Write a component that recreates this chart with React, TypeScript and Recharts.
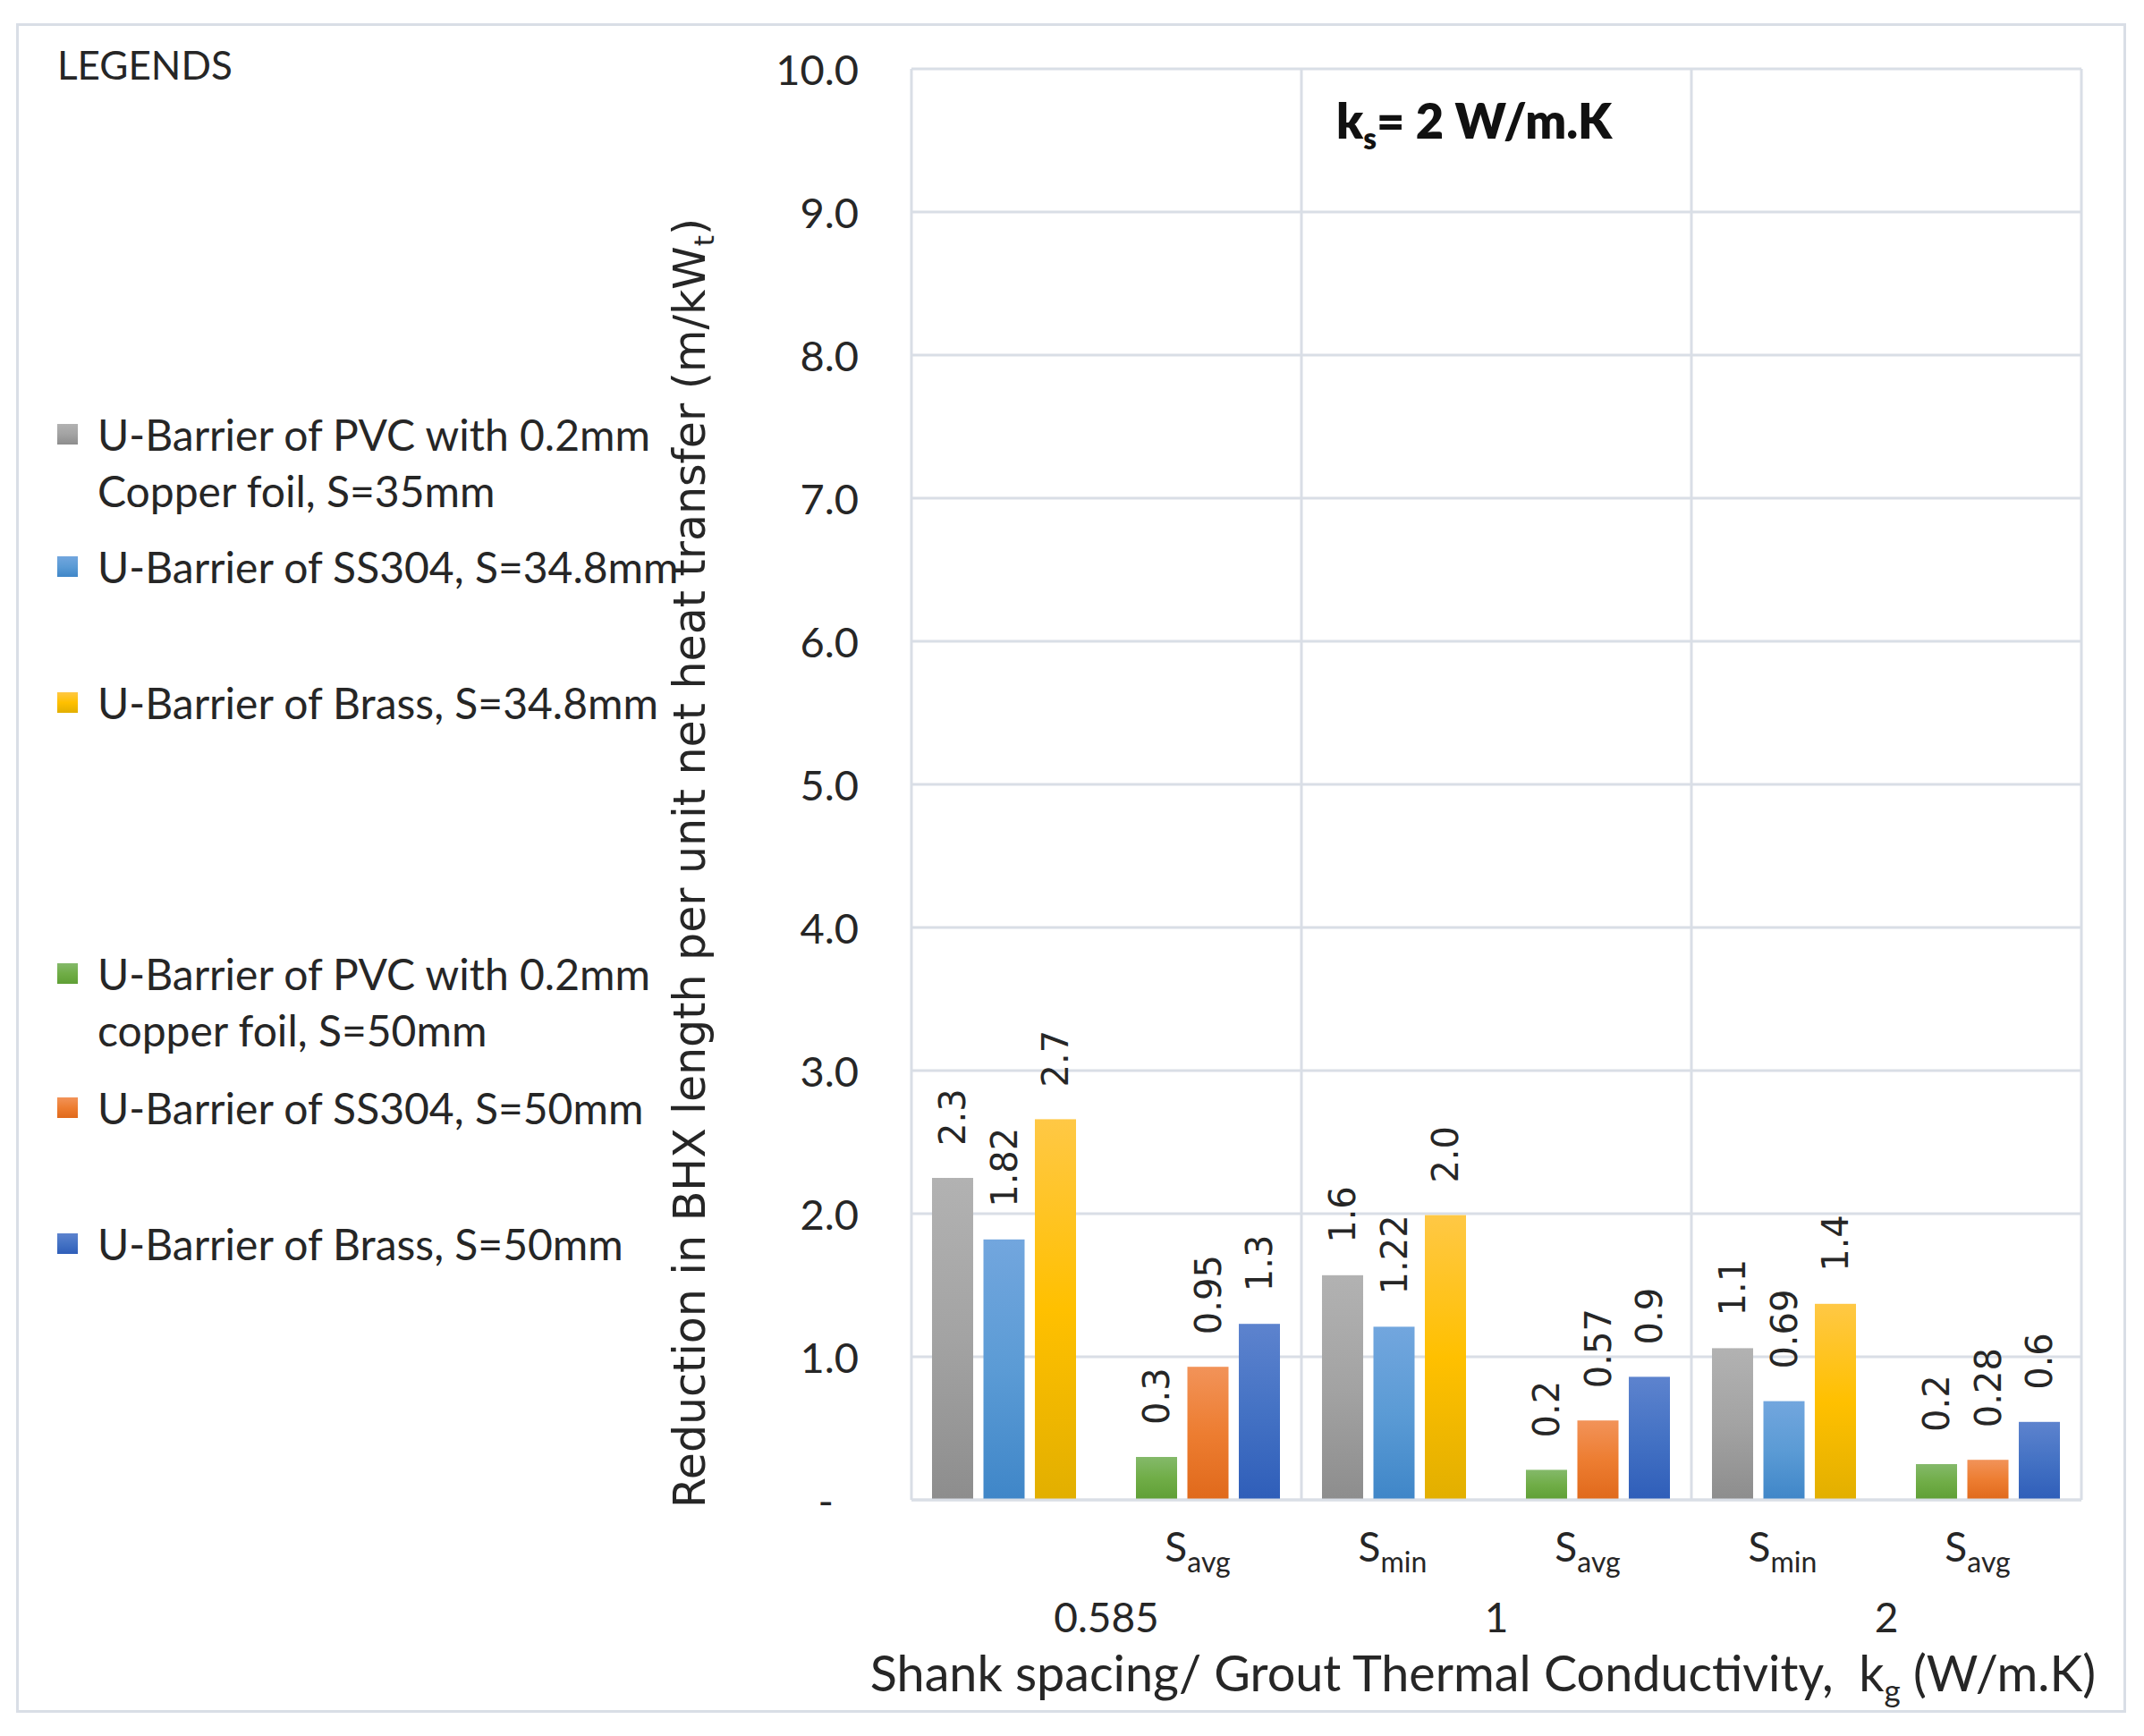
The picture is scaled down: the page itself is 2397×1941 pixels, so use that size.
import { Bar, BarChart, CartesianGrid, Cell, LabelList, XAxis, YAxis } from 'recharts'

// categories: shank spacing per grout conductivity group (first S_min label is blank in the source)
const subscripts = ['', 'avg', 'min', 'avg', 'min', 'avg']
const spacingKind = ['min', 'avg', 'min', 'avg', 'min', 'avg']
const groupNames = ['0.585', '', '1', '', '2', '']

// bar heights (m/kWt)
const barA = [2.25, 0.3, 1.57, 0.21, 1.06, 0.25]
const barB = [1.82, 0.93, 1.21, 0.555, 0.69, 0.28]
const barC = [2.66, 1.23, 1.99, 0.86, 1.37, 0.545]

// printed data labels
const labelA = ['2.3', '0.3', '1.6', '0.2', '1.1', '0.2']
const labelB = ['1.82', '0.95', '1.22', '0.57', '0.69', '0.28']
const labelC = ['2.7', '1.3', '2.0', '0.9', '1.4', '0.6']

const yTicks = [0, 1, 2, 3, 4, 5, 6, 7, 8, 9, 10]

const legendNames = [
  ['U-Barrier of PVC with 0.2mm', 'Copper foil, S=35mm'],
  ['U-Barrier of SS304, S=34.8mm'],
  ['U-Barrier of Brass, S=34.8mm'],
  ['U-Barrier of PVC with 0.2mm', 'copper foil, S=50mm'],
  ['U-Barrier of SS304, S=50mm'],
  ['U-Barrier of Brass, S=50mm'],
]

const data = subscripts.map((sub, i) => ({
  sub,
  group: groupNames[i],
  kind: spacingKind[i],
  a: barA[i],
  b: barB[i],
  c: barC[i],
  la: labelA[i],
  lb: labelB[i],
  lc: labelC[i],
}))

// layout
const W = 2397
const H = 1941
const PLOT_LEFT = 1019
const PLOT_RIGHT = 2327
const PLOT_TOP = 77
const PLOT_BOTTOM = 1677
const PLOT_W = PLOT_RIGHT - PLOT_LEFT
const BAND = PLOT_W / subscripts.length
const GRID = '#d9dee6'
const INK = '#262626'
const CAL = 'Lato, "Open Sans", sans-serif'
const DV = '"DejaVu Sans", Verdana, sans-serif'
// Excel nudges the S_min cluster left and the S_avg cluster right inside each band
const KIND_SHIFT: Record<string, number> = { min: -6, avg: 4 }

const gradients: Record<string, [string, string, string]> = {
  gray: ['#b2b2b2', '#a3a3a3', '#8d8d8d'],
  blue: ['#72a6de', '#5b9bd5', '#3f86c8'],
  gold: ['#ffc845', '#ffc000', '#e2af00'],
  green: ['#84b96a', '#70ad47', '#5f9f35'],
  orange: ['#f29359', '#ed7d31', '#e0691b'],
  navy: ['#5d83ce', '#4472c4', '#2f5eb9'],
}

const fills = {
  a: { min: 'gray', avg: 'green' },
  b: { min: 'blue', avg: 'orange' },
  c: { min: 'gold', avg: 'navy' },
}

const legendColors = ['gray', 'blue', 'gold', 'green', 'orange', 'navy']
const legendTops = [486, 634, 786, 1089, 1239, 1391]

function XTick(props: any) {
  const { x, y, payload, index } = props
  const row = data[index] ?? data[payload?.index ?? 0]
  return (
    <g>
      {row.sub && (
        <text x={x - 7} y={y + 67} textAnchor="middle" fontFamily={CAL} fontSize={46} fill={INK}>
          <tspan>S</tspan>
          <tspan fontSize={32} dy={12}>{row.sub}</tspan>
        </text>
      )}
      {row.group && (
        <text x={x + BAND / 2} y={y + 146} textAnchor="middle" fontFamily={CAL} fontSize={46} fill={INK}>
          {row.group}
        </text>
      )}
    </g>
  )
}

function YTick(props: any) {
  const { x, y, payload } = props
  const v = payload.value
  return (
    <text
      x={v === 0 ? x - 28 : x}
      y={y}
      textAnchor="end"
      dominantBaseline="central"
      fontFamily={CAL}
      fontSize={47}
      fill={INK}
    >
      {v === 0 ? '-' : v.toFixed(1)}
    </text>
  )
}

function ShiftedBar(props: any) {
  const { x, y, width, height, fill, index } = props
  if (!height || height <= 0) return null
  const dx = KIND_SHIFT[data[index]?.kind] ?? 0
  return <rect x={x + dx} y={y} width={width} height={height} fill={fill} />
}

function rotatedLabel(props: any) {
  const { x, y, width, value, index } = props
  const dx = KIND_SHIFT[data[index]?.kind] ?? 0
  const cx = Number(x) + Number(width) / 2 + dx
  const ty = Number(y) - 36
  return (
    <text
      transform={`translate(${cx}, ${ty}) rotate(-90)`}
      textAnchor="start"
      dominantBaseline="central"
      fontFamily={DV}
      fontSize={40}
      fill={INK}
    >
      {value}
    </text>
  )
}

function cssGrad(name: string) {
  const [a, b, c] = gradients[name]
  return `linear-gradient(${a}, ${b}, ${c})`
}

export default function App() {
  return (
    <div style={{ position: 'relative', width: W, height: H, background: '#fff' }}>
      <style>{'body{margin:0}'}</style>
      <div
        style={{
          position: 'absolute',
          left: 18,
          top: 26,
          width: 2377 - 18 - 6,
          height: 1915 - 26 - 6,
          border: `3px solid ${GRID}`,
        }}
      />
      <div style={{ position: 'absolute', left: 0, top: 0 }}>
        <BarChart
          width={W}
          height={H}
          data={data}
          margin={{ top: PLOT_TOP, right: W - PLOT_RIGHT, bottom: H - PLOT_BOTTOM - 160, left: 0 }}
          barSize={46}
          barGap={11.5}
        >
          <defs>
            {Object.entries(gradients).map(([name, [a, b, c]]) => (
              <linearGradient key={name} id={`g-${name}`} x1="0" y1="0" x2="0" y2="1">
                <stop offset="0%" stopColor={a} />
                <stop offset="50%" stopColor={b} />
                <stop offset="100%" stopColor={c} />
              </linearGradient>
            ))}
          </defs>
          <CartesianGrid
            stroke={GRID}
            strokeWidth={3}
            verticalCoordinatesGenerator={(p: any) => {
              const l = p?.offset?.left ?? PLOT_LEFT
              const w = p?.offset?.width ?? PLOT_W
              return [l, l + w / 3, l + (2 * w) / 3, l + w]
            }}
          />
          <XAxis
            dataKey="sub"
            height={160}
            interval={0}
            tickLine={false}
            tickSize={0}
            axisLine={{ stroke: GRID, strokeWidth: 3 }}
            tick={<XTick />}
          />
          <YAxis
            width={PLOT_LEFT}
            domain={[0, 10]}
            ticks={yTicks}
            interval={0}
            axisLine={false}
            tickLine={false}
            tickSize={0}
            tickMargin={59}
            tick={<YTick />}
          />
          {(['a', 'b', 'c'] as const).map((key) => (
            <Bar key={key} dataKey={key} isAnimationActive={false} shape={<ShiftedBar />}>
              {data.map((row, i) => (
                <Cell key={i} fill={`url(#g-${fills[key][row.kind as 'min' | 'avg']})`} />
              ))}
              <LabelList dataKey={`l${key}`} content={rotatedLabel} />
            </Bar>
          ))}
        </BarChart>
      </div>

      {/* legend box drawn by hand, as in the source */}
      <div style={{ position: 'absolute', left: 64, top: 46, fontFamily: CAL, fontSize: 44, color: INK }}>LEGENDS</div>
      {legendNames.map((lines, i) => (
        <div
          key={i}
          style={{
            position: 'absolute',
            left: 64,
            top: legendTops[i] - 32,
            fontFamily: CAL,
            fontSize: 48,
            lineHeight: '63px',
            color: INK,
            whiteSpace: 'nowrap',
          }}
        >
          <div
            style={{
              position: 'absolute',
              left: 0,
              top: 20,
              width: 23,
              height: 23,
              background: cssGrad(legendColors[i]),
            }}
          />
          <div style={{ marginLeft: 45 }}>
            {lines.map((t, j) => (
              <div key={j}>{t}</div>
            ))}
          </div>
        </div>
      ))}

      <div
        style={{
          position: 'absolute',
          left: 1494,
          top: 138,
          transform: 'translateY(-50%)',
          fontFamily: CAL,
          fontWeight: 800,
          fontSize: 54,
          color: '#111',
          whiteSpace: 'nowrap',
        }}
      >
        k<sub style={{ fontSize: 33 }}>s</sub>= 2 W/m.K
      </div>

      <div
        style={{
          position: 'absolute',
          left: 774,
          top: 965,
          transform: 'translate(-50%, -50%) rotate(-90deg)',
          fontFamily: DV,
          fontSize: 49,
          color: INK,
          whiteSpace: 'nowrap',
        }}
      >
        Reduction in BHX length per unit net heat transfer (m/kW<sub style={{ fontSize: 31 }}>t</sub>)
      </div>

      <div
        style={{
          position: 'absolute',
          left: 1658,
          top: 1873,
          transform: 'translate(-50%, -50%)',
          fontFamily: CAL,
          fontSize: 55.7,
          color: INK,
          whiteSpace: 'pre',
        }}
      >
        Shank spacing/ Grout Thermal Conductivity,  k<sub style={{ fontSize: 35 }}>g</sub> (W/m.K)
      </div>
    </div>
  )
}
